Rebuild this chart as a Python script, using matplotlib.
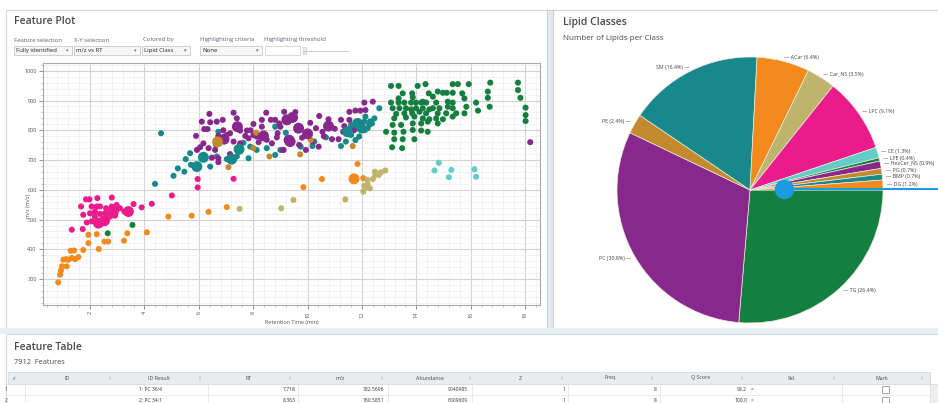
import matplotlib
matplotlib.use('Agg')
import matplotlib.pyplot as plt
from matplotlib.patches import Rectangle
from matplotlib.lines import Line2D
from matplotlib.ticker import MultipleLocator
import numpy as np

plt.rcParams['font.family'] = ['Open Sans', 'DejaVu Sans']

# ---------------- scatter data (RT min, m/z) ----------------
acar_rt = [0.83, 0.90, 0.93, 0.97, 1.02, 1.12, 1.20, 1.29, 1.41, 1.33, 1.45, 1.57, 1.14, 1.75, 1.94,
           1.94, 2.25, 2.32, 2.53, 2.67, 3.25, 3.37, 4.09, 4.88, 5.74, 6.36, 7.03, 9.85, 10.53, 11.84, 12.05]
acar_mz = [289, 315, 329, 343, 365, 367, 365, 395, 396, 371, 367, 374, 343, 398, 421,
           449, 451, 401, 426, 426, 429, 454, 457, 510, 513, 526, 542, 609, 636, 687, 639]

pe_rt = [8.11, 8.01, 8.60, 7.09, 10.12, 9.73, 11.66]
pe_mz = [792, 740, 712, 676, 767, 719, 747]

carns_rt = [7.50, 9.03, 9.48, 11.39, 12.05, 12.12, 12.21, 12.29, 12.40, 12.49, 12.62, 12.70, 12.86, 12.48, 12.19, 12.09]
carns_mz = [536, 538, 566, 568, 594, 608, 620, 605, 636, 650, 650, 659, 665, 661, 634, 613]

ce_rt = [14.67, 14.83, 15.20, 15.29, 16.14, 16.20]
ce_mz = [665, 691, 642, 667, 669, 644]

lpc_rt = [1.33, 1.73, 1.67, 1.85, 1.98, 2.27, 2.80, 2.06, 2.25, 2.37, 2.59, 2.80, 2.98, 3.10,
          2.00, 2.18, 2.37, 2.55, 2.74, 2.92, 3.26, 3.47, 3.60, 1.75, 1.88, 2.06, 2.74, 2.92,
          2.18, 2.61, 3.90, 4.27, 5.01, 5.96, 5.96, 7.28]
lpc_mz = [466, 468, 544, 568, 568, 572, 574, 544, 544, 544, 538, 544, 549, 538,
          521, 527, 519, 521, 524, 527, 527, 524, 552, 516, 490, 494, 510, 513,
          510, 510, 541, 553, 581, 636, 608, 637]

pc_rt = [6.39, 6.88, 7.28, 6.11, 6.42, 5.90, 6.20, 6.32, 6.17, 6.72, 7.15, 7.71, 8.01, 8.32, 8.48,
         8.65, 8.81, 9.55, 7.03, 7.28, 7.52, 7.83, 8.13, 8.50, 8.69, 8.87, 9.61, 6.05, 6.36, 6.60,
         6.72, 6.48, 7.15, 7.52, 7.77, 8.01, 8.32, 9.00, 9.12, 5.93, 6.66, 6.72, 6.64,
         9.14, 10.43, 10.77, 10.31, 10.55, 10.90, 11.14, 11.31, 11.54, 11.76, 11.94, 12.13, 12.09,
         12.40, 9.69, 9.94, 10.18, 10.41, 9.08, 11.23, 11.54, 11.35, 8.96, 18.19,
         7.90, 8.20, 8.90, 9.80, 10.60, 10.10, 11.00, 11.70, 7.40, 6.90]
pc_mz = [855, 835, 859, 829, 827, 781, 804, 804, 756, 781, 790, 781, 821, 835, 859,
         835, 835, 861, 784, 762, 756, 773, 779, 768, 756, 776, 801, 743, 740, 734,
         706, 708, 720, 799, 799, 784, 812, 812, 734, 734, 829, 693, 751,
         862, 848, 837, 807, 795, 770, 770, 795, 862, 866, 866, 868, 893,
         896, 751, 734, 762, 745, 734, 835, 835, 814, 823, 760,
         800, 760, 790, 775, 780, 825, 805, 800, 840, 800]

sm_rt = [4.61, 4.39, 5.07, 5.23, 5.47, 5.52, 5.68, 5.71, 6.42, 6.66, 7.40, 7.83, 8.13, 8.50, 8.81,
         9.00, 7.64, 7.89, 6.72, 8.81, 7.03, 9.20, 9.75, 10.18, 10.25, 10.68, 11.23, 11.41, 11.60,
         11.72, 11.97, 12.09, 12.21, 12.37, 12.46, 11.90, 11.76, 12.27, 12.13, 12.64, 11.60, 12.03,
         11.80, 12.00, 12.30, 11.50, 12.10]
sm_mz = [790, 620, 647, 672, 661, 703, 723, 684, 678, 712, 712, 706, 734, 740, 717,
         734, 758, 745, 795, 812, 703, 792, 745, 747, 762, 776, 747, 762, 784,
         812, 799, 829, 807, 823, 840, 779, 767, 818, 846, 874, 818, 812,
         805, 820, 830, 790, 800]

tg_rt = [2.65, 3.56,
         13.07, 13.35, 14.05, 14.34, 15.34, 15.53, 15.93, 16.72, 17.74,
         13.50, 13.85, 14.46, 14.79, 14.98, 15.12, 15.34, 15.69, 16.63, 17.74,
         13.35, 13.87, 14.24, 14.61, 15.77, 16.63, 17.83,
         13.07, 13.35, 13.56, 13.81, 13.99, 14.18, 14.36, 14.73, 15.16, 15.34, 16.20,
         13.13, 13.38, 13.62, 13.81, 13.99, 14.24, 14.48, 14.61, 14.85, 15.16, 15.34, 15.84, 16.70, 18.02,
         13.26, 13.56, 13.85, 14.12, 14.36, 14.79, 15.10, 15.47, 15.77, 16.27, 18.02,
         13.19, 13.62, 13.93, 14.24, 14.48, 14.73, 14.98, 15.34, 18.02,
         13.13, 13.44, 13.87, 14.18, 14.42, 14.79,
         12.89, 13.19, 13.53, 13.87, 14.18, 14.42,
         13.19, 13.50, 13.93, 13.11, 13.48]
tg_mz = [454, 482,
         949, 949, 949, 955, 955, 955, 955, 960, 960,
         924, 924, 924, 930, 926, 926, 926, 924, 930, 935,
         907, 911, 896, 913, 907, 909, 909,
         893, 893, 893, 893, 893, 893, 893, 893, 896, 893, 893,
         874, 874, 874, 870, 874, 874, 870, 874, 874, 879, 874, 879, 879, 876,
         855, 857, 857, 862, 857, 857, 857, 857, 857, 866, 851,
         840, 843, 846, 840, 837, 840, 837, 846, 831,
         818, 818, 823, 823, 829, 823,
         795, 792, 795, 801, 799, 795,
         770, 770, 770, 743, 740]

# larger (high-abundance) features
big_rt = [2.53, 2.86, 3.41, 2.31, 7.42, 9.24, 6.93, 8.38, 9.36, 9.45, 9.67, 9.32, 10.00, 10.77,
          5.93, 6.17, 7.21, 7.48, 11.47, 11.84, 11.71, 6.69]
big_mz = [496, 527, 527, 488, 812, 835, 770, 781, 762, 843, 807, 767, 788, 814,
          678, 709, 703, 736, 795, 823, 637, 761]
big_cls = ['LPC'] * 4 + ['PC'] * 10 + ['SM'] * 6 + ['ACar', 'PE']

# ---------------- pie data ----------------
pie_names = ['TG', 'PC', 'PE', 'SM', 'ACar', 'Car_NS', 'LPC', 'CE', 'LPE', 'HexCer_NS', 'PG', 'BMP', 'DG']
pie_pct = [26.4, 30.8, 2.4, 16.4, 6.4, 3.5, 9.1, 1.3, 0.4, 0.9, 0.7, 0.7, 1.2]

palette = {'TG': '#14803f', 'PC': '#88288c', 'PE': '#c28a2c', 'SM': '#17898b', 'ACar': '#f28a1d',
           'Car_NS': '#bfb46c', 'LPC': '#ea1b8b', 'CE': '#62cdc8'}
pie_cycle = ['#14803f', '#88288c', '#c28a2c', '#17898b', '#f28a1d', '#bfb46c', '#ea1b8b', '#62cdc8']

# ---------------- table data ----------------
tbl_headers = ['ID', 'ID Result', 'RT', 'm/z', 'Abundance', 'Z', 'Freq.', 'Q Score', 'Sel.', 'Mark']
row_ids = ['1: PC 36:4', '2: PC 34:1']
row_rt = ['7.718', '8.363']
row_mz = ['782.5696', '760.5851']
row_abund = ['9040985', '6009609']
row_z = ['1', '1']
row_freq = ['8', '8']
row_q = ['98.2', '100.0']

# ================= figure =================
W, H = 938, 403
fig = plt.figure(figsize=(W / 100, H / 100), dpi=100)
fig.patch.set_facecolor('white')

def fx(px):
    return px / W

def fy(py):
    return 1 - py / H

def rect(x0, y0, x1, y1, **kw):
    fig.add_artist(Rectangle((fx(x0), fy(y1)), (x1 - x0) / W, (y1 - y0) / H,
                             transform=fig.transFigure, **kw))

def txt(x, y, s, **kw):
    kw.setdefault('va', 'center')
    fig.text(fx(x), fy(y), s, **kw)

TITLE = '#4a4a4a'
# panels
rect(6, 10, 547, 328, fill=False, ec='#d3d9df', lw=0.8)
rect(553, 10, 945, 328, fill=False, ec='#d3d9df', lw=0.8)
rect(547, 10, 553, 328, fc='#e4e8ec', ec='#c3c9cf', lw=0.5)
rect(0, 328, 945, 334, fc='#e7eef4', ec='none')
rect(6, 334, 945, 410, fill=False, ec='#d3d9df', lw=0.8)

# ---- Feature plot header & controls
txt(14, 22, 'Feature Plot', fontsize=7.5, weight='semibold', color=TITLE)
ctrl_lab = [(14, 'Feature selection'), (74, 'X-Y selection'), (143, 'Colored by'),
            (200, 'Highlighting criteria'), (264, 'Highlighting threshold')]
for x, s in ctrl_lab:
    txt(x, 40, s, fontsize=4.3, color='#55616c')
combos = [(14, 72, 'Fully identified'), (74, 140, 'm/z vs RT'), (142, 190, 'Lipid Class'),
          (200, 262, 'None')]
for x0, x1, s in combos:
    rect(x0, 46, x1, 55, fc='#f7f7f7', ec='#b9c0c7', lw=0.5)
    txt(x0 + 2, 50.5, s, fontsize=4.3, color='#222222')
    txt(x1 - 5, 50.5, '▾', fontsize=3.5, color='#707070', ha='center')
rect(265, 46, 300, 55, fc='white', ec='#c5ccd2', lw=0.5)
fig.add_artist(Line2D([fx(304), fx(348)], [fy(50.5)] * 2, color='#c8ced4', lw=0.8,
                      transform=fig.transFigure))
rect(303, 47, 306, 54, fc='#e8ebee', ec='#b9c0c7', lw=0.4)

# ---- scatter
ax = fig.add_axes([fx(43), fy(305), (540 - 43) / W, (305 - 63) / H])
small = 19
series = [(acar_rt, acar_mz, 'ACar'), (carns_rt, carns_mz, 'Car_NS'), (ce_rt, ce_mz, 'CE'),
          (lpc_rt, lpc_mz, 'LPC'), (sm_rt, sm_mz, 'SM'), (pc_rt, pc_mz, 'PC'),
          (pe_rt, pe_mz, 'PE'), (tg_rt, tg_mz, 'TG')]
for xs, ys, c in series:
    ax.scatter(xs, ys, s=small, color=palette[c], edgecolors='none', zorder=3)
ax.scatter(big_rt, big_mz, s=62, c=[palette[c] for c in big_cls], edgecolors='none', zorder=3)

ax.set_xlim(0.27, 18.55)
ax.set_ylim(213, 1026)
ax.xaxis.set_major_locator(MultipleLocator(2))
ax.xaxis.set_minor_locator(MultipleLocator(0.4))
ax.yaxis.set_major_locator(MultipleLocator(100))
ax.yaxis.set_minor_locator(MultipleLocator(20))
ax.set_yticks(np.arange(300, 1001, 100))
ax.grid(which='major', color='#d2d2d2', lw=0.8, zorder=0)
ax.grid(which='minor', color='#eeeeee', lw=0.5, zorder=0)
ax.set_axisbelow(True)
ax.tick_params(which='major', length=3, width=0.6, color='#808080', labelsize=4,
               labelcolor='#555555', pad=1.5)
ax.tick_params(which='minor', length=1.5, width=0.4, color='#909090')
ax.tick_params(axis='x', labelrotation=90)
for sp in ax.spines.values():
    sp.set_color('#a8a8a8')
    sp.set_linewidth(0.8)
ax.set_xlabel('Retention Time (min)', fontsize=4, color='#555555', labelpad=2)
ax.set_ylabel('m/z (m/z)', fontsize=4, color='#555555')
ax.yaxis.set_label_coords((31 - 43) / 497, (305 - 206) / 242)

# ---- pie
txt(563, 23, 'Lipid Classes', fontsize=7.5, weight='semibold', color=TITLE)
txt(563, 38, 'Number of Lipids per Class', fontsize=5.8, color='#4a4a4a')
R = 133.0
pax = fig.add_axes([fx(750 - 140), fy(190 + 140), 280 / W, 280 / H])
cols = [pie_cycle[i % len(pie_cycle)] for i in range(len(pie_pct))]
wedges, _ = pax.pie(pie_pct, colors=cols, startangle=0, counterclock=False, radius=1,
                    wedgeprops=dict(edgecolor='#efe9dc', linewidth=0.5))
pax.set_xlim(-140 / R, 140 / R)
pax.set_ylim(-140 / R, 140 / R)
pax.axis('off')
for w, n, v in zip(wedges, pie_names, pie_pct):
    a = np.deg2rad((w.theta1 + w.theta2) / 2)
    x, y = 1.03 * np.cos(a), 1.03 * np.sin(a)
    lab = f'{n} ({v:.1f}%)'
    if x > 0:
        pax.text(x, y, '— ' + lab, ha='left', va='center', fontsize=3.8, color='#404040', clip_on=False)
    else:
        pax.text(x, y, lab + ' —', ha='right', va='center', fontsize=3.8, color='#404040', clip_on=False)

# blue callout marker
fig.add_artist(Line2D([fx(784), fx(940)], [fy(189.5)] * 2, color='#1e9ae0', lw=1.5,
                      transform=fig.transFigure))
fig.add_artist(Line2D([fx(784)], [fy(189.5)], marker='o', ms=14, color='#1e9ae0', mec='none',
                      transform=fig.transFigure))

# ---- table
txt(14, 348, 'Feature Table', fontsize=7.5, weight='semibold', color=TITLE)
txt(14, 362, '7912  Features', fontsize=5.3, color='#4a4a4a')
bounds = [25, 118, 208, 298, 390, 478, 570, 660, 750, 842, 930]
rect(8, 372, 930, 384, fc='#e9ecef', ec='#d0d5da', lw=0.5)
txt(14, 379, '◢', fontsize=3, color='#a0a0a0', ha='center')
for i, h in enumerate(tbl_headers):
    c0, c1 = bounds[i], bounds[i + 1]
    txt((c0 + c1) / 2 - 4, 378, h, fontsize=3.8, color='#444444', ha='center')
    txt(c1 - 8, 378.5, '⇕', fontsize=3.5, color='#b0b0b0', ha='center')
for yl in [384, 395]:
    fig.add_artist(Line2D([fx(8), fx(930)], [fy(yl + 11)] * 2, color='#e2e2e2', lw=0.5,
                          transform=fig.transFigure))
for xb in [25, 208, 298, 388, 472, 568, 660, 842]:
    fig.add_artist(Line2D([fx(xb)] * 2, [fy(384), fy(403)], color='#e2e2e2', lw=0.5,
                          transform=fig.transFigure))
for r in range(2):
    yy = 389.5 + r * 11
    txt(5, yy, str(r + 1), fontsize=3.6, color='#444444')
    txt(162, yy, row_ids[r], fontsize=3.6, color='#333333', ha='right')
    txt(296, yy, row_rt[r], fontsize=3.6, color='#333333', ha='right')
    txt(384, yy, row_mz[r], fontsize=3.6, color='#333333', ha='right')
    txt(468, yy, row_abund[r], fontsize=3.6, color='#333333', ha='right')
    txt(565, yy, row_z[r], fontsize=3.6, color='#333333', ha='right')
    txt(657, yy, row_freq[r], fontsize=3.6, color='#333333', ha='right')
    txt(747, yy, row_q[r], fontsize=3.6, color='#333333', ha='right')
    txt(752, yy, '×', fontsize=3.6, color='#555555', ha='center')
    rect(882, yy - 3.5, 889, yy + 3.5, fc='white', ec='#808080', lw=0.5)
rect(930, 384, 938, 403, fc='#eeeeee', ec='#d0d0d0', lw=0.4)

fig.savefig('out.png', dpi=100, facecolor='white')
